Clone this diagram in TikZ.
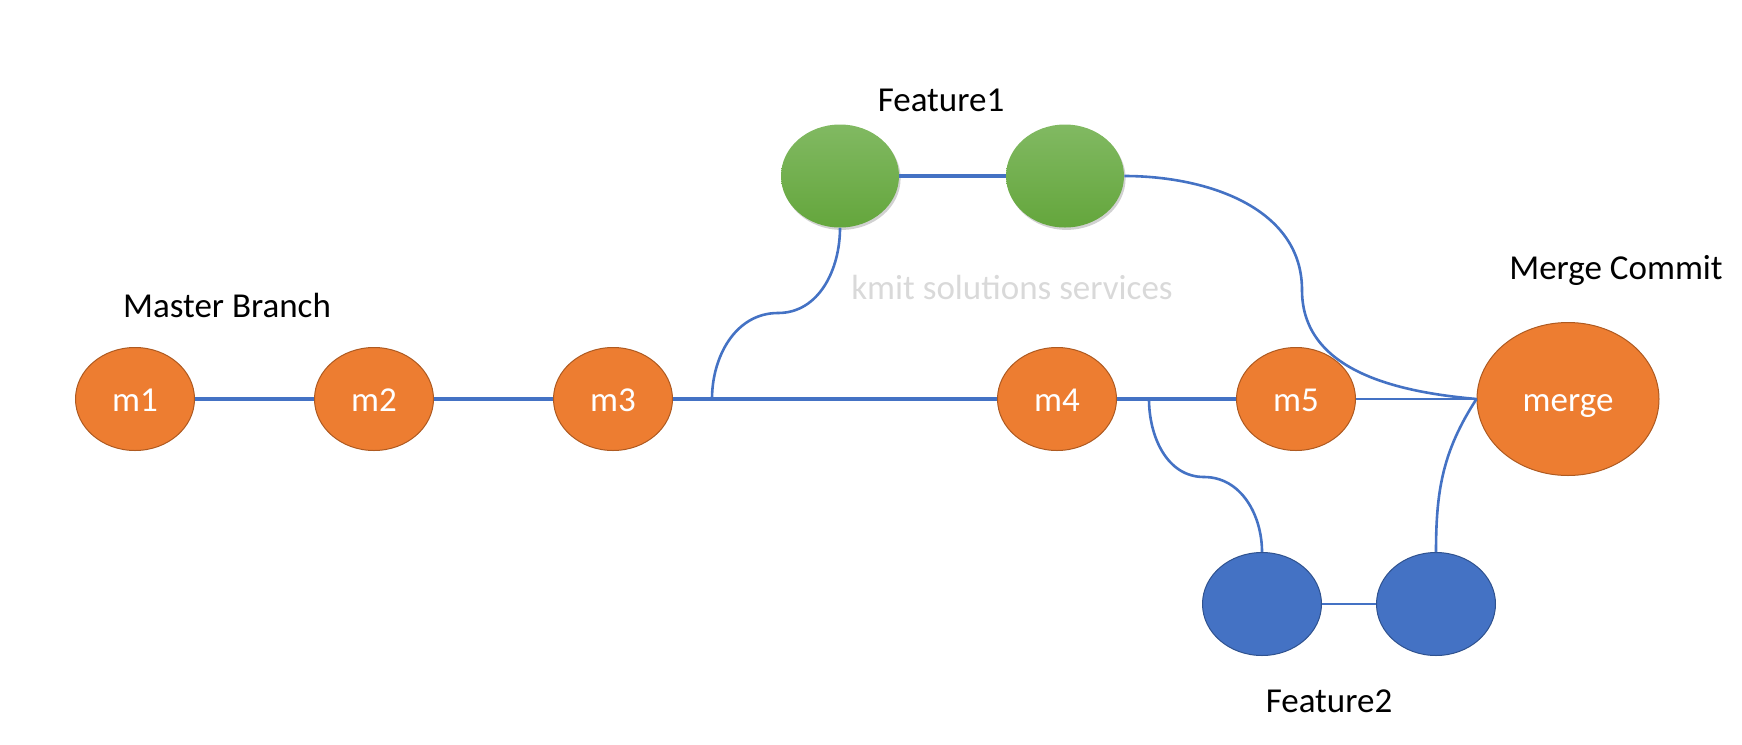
\documentclass[tikz,border=0pt]{standalone}
\usepackage{fontspec}
\setmainfont{Carlito}
\usepackage{tikz}
\usetikzlibrary{arrows,shapes.geometric,shadows}

\definecolor{commit}{HTML}{ED7D31}
\definecolor{commitline}{HTML}{AE5A21}
\definecolor{branch}{HTML}{4472C4}
\definecolor{branchline}{HTML}{2F528F}
\definecolor{greentop}{RGB}{129,185,98}
\definecolor{greenbot}{RGB}{100,166,60}

\begin{document}
\begin{tikzpicture}[x=0.5pt,y=-0.5pt,auto,node distance=119.5pt,
                    font=\fontsize{17.5}{21}\selectfont,
                    main node/.style={ellipse,draw=commitline,fill=commit,line width=0.5pt,
                      inner sep=0pt,minimum width=59.5pt,minimum height=51.5pt,text=white,
                      text height=12pt,text depth=0pt},
                    merge node/.style={main node,minimum width=91pt,minimum height=76.5pt},
                    green node/.style={ellipse,inner sep=0pt,minimum width=59pt,minimum height=51.5pt,
                      top color=greentop,bottom color=greenbot,
                      drop shadow={shadow xshift=0.8pt,shadow yshift=-1.2pt,opacity=0.3,fill=black!60}},
                    blue node/.style={ellipse,draw=branchline,fill=branch,line width=0.5pt,
                      inner sep=0pt,minimum width=59.5pt,minimum height=51.5pt},
                    link/.style={draw=branch,line width=1.6pt},
                    curve/.style={draw=branch,line width=1.3pt},
                    thin link/.style={draw=branch,line width=0.6pt}]

  \useasboundingbox (0,0) rectangle (1742,745);

  % master
  \node[main node] (1) at (135,399) {m1};
  \node[main node] (2) [right of=1] {m2};
  \node[main node] (3) [right of=2] {m3};
  \node[main node] (4) at (1057,399) {m4};
  \node[main node] (5) [right of=4] {m5};
  \node[merge node] (6) at (1568,399) {merge};

  % feature branches
  \node[green node] (a1) at (840,176) {};
  \node[green node] (a2) at (1065,176) {};
  \node[blue node] (b1) at (1262,604) {};
  \node[blue node] (b2) at (1436,604) {};

  % labels
  \node[anchor=base] (lm) at (227,317) {Master Branch};
  \node[anchor=base] (la) at (941,111) {Feature1};
  \node[anchor=base] (lc) at (1616,279) {Merge Commit};
  \node[anchor=base] (lb) at (1329,712) {Feature2};
  \node[anchor=base,text=black!15] (wm) at (1012,299) {kmit solutions services};

  \coordinate (j1) at (712,399);
  \coordinate (k1) at (778,313);
  \coordinate (j2) at (1149,399);
  \coordinate (k2) at (1204,477);
  \coordinate (k3) at (1302,290);

  \path[link]
    (1) edge (2)
    (2) edge (3)
    (3) edge (4)
    (4) edge (5)
    (a1) edge (a2);
  \path[thin link]
    (5) edge (6.west)
    (b1) edge (b2);
  \path[curve]
    (j1) edge[out=90,in=180] (k1)
    (k1) edge[out=0,in=-90] (a1.south)
    (j2) edge[out=-90,in=180] (k2)
    (k2) edge[out=0,in=90] (b1.north)
    (a2.east) edge[out=0,in=90] (k3)
    (k3) edge[out=-90,in=175] (6.west)
    (b2.north) edge[out=90,in=237] (6.west);
\end{tikzpicture}
\end{document}
